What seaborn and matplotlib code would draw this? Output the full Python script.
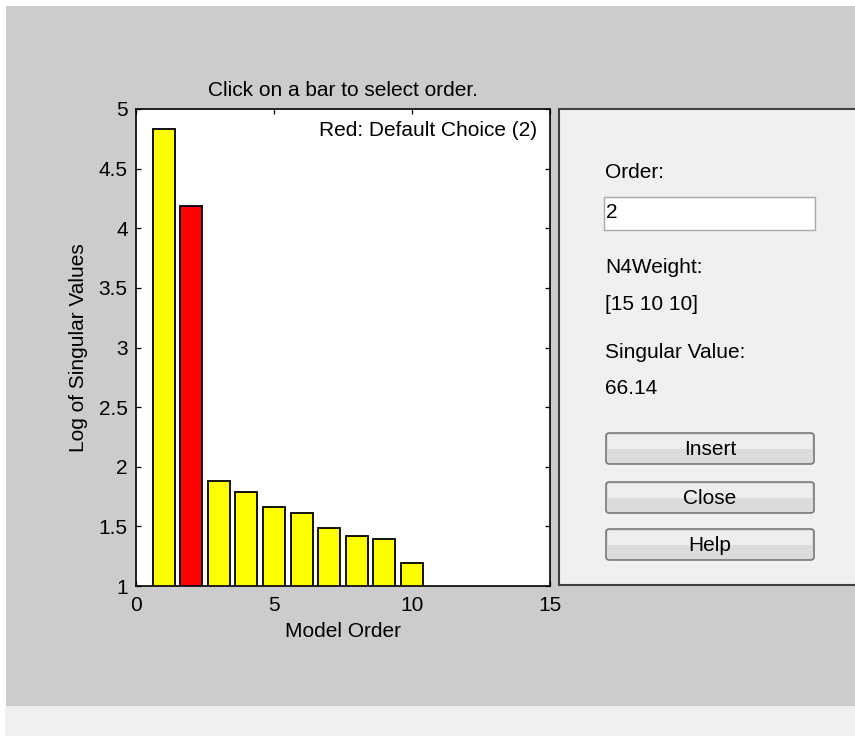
import matplotlib
matplotlib.use("Agg")
import matplotlib.pyplot as plt
import seaborn as sns
import pandas as pd
from matplotlib.patches import Rectangle, FancyBboxPatch

# ---- data ----
model_order = [1, 2, 3, 4, 5, 6, 7, 8, 9, 10]
log_singular = [4.83, 4.19, 1.88, 1.79, 1.66, 1.61, 1.49, 1.42, 1.39, 1.19]
default_order = 2
x_ticks = [0, 5, 10, 15]
y_ticks = [1, 1.5, 2, 2.5, 3, 3.5, 4, 4.5, 5]
y_tick_labels = ["1", "1.5", "2", "2.5", "3", "3.5", "4", "4.5", "5"]
panel_labels = ["Order:", "N4Weight:", "[15 10 10]", "Singular Value:", "66.14"]
order_value = "2"
button_labels = ["Insert", "Close", "Help"]

sns.set_style("white")
plt.rcParams["font.family"] = ["Liberation Sans", "DejaVu Sans"]
plt.rcParams["text.color"] = "black"
plt.rcParams["axes.labelcolor"] = "black"

FS = 15
W, H = 855, 736
fig = plt.figure(figsize=(W / 100, H / 100), dpi=100)
fig.patch.set_facecolor("white")

def fx(x):
    return x / W

def fy(y):
    return 1 - y / H

# background regions
fig.patches.append(Rectangle((fx(6), fy(706)), fx(W - 6), (706 - 6) / H,
                             transform=fig.transFigure, facecolor="#cccccc",
                             edgecolor="none", zorder=-10))
fig.patches.append(Rectangle((fx(5), fy(736)), fx(W - 5), 30 / H,
                             transform=fig.transFigure, facecolor="#f0f0f0",
                             edgecolor="none", zorder=-10))

# ---- main axes ----
ax_l, ax_r, ax_t, ax_b = 136, 550, 109, 586
ax = fig.add_axes([fx(ax_l), fy(ax_b), (ax_r - ax_l) / W, (ax_b - ax_t) / H])
df = pd.DataFrame({"order": model_order, "value": log_singular})
df["kind"] = ["default" if o == default_order else "other" for o in model_order]
sns.barplot(data=df, x="order", y="value", hue="kind", native_scale=True,
            palette={"default": "#ff0000", "other": "#ffff00"},
            dodge=False, width=0.8, edgecolor="black", linewidth=1.3,
            legend=False, ax=ax, saturation=1)
ax.set_xlim(0, 15)
ax.set_ylim(1, 5)
ax.set_xticks(x_ticks)
ax.set_xticklabels([str(t) for t in x_ticks])
ax.set_yticks(y_ticks)
ax.set_yticklabels(y_tick_labels)
ax.set_facecolor("white")
for s in ax.spines.values():
    s.set_visible(True)
    s.set_color("black")
    s.set_linewidth(1.2)
ax.tick_params(direction="in", length=3.5, width=0.9, top=True, right=True,
               bottom=True, left=True, labelsize=FS, colors="black")
ax.tick_params(axis="x", pad=7)
ax.tick_params(axis="y", pad=6)
ax.set_xlabel("Model Order", fontsize=FS, labelpad=5, color="black")
ax.set_ylabel("Log of Singular Values", fontsize=FS, labelpad=8, color="black")
ax.set_title("Click on a bar to select order.", fontsize=FS, pad=9, color="black")
ax.text(0.97, 0.955, "Red: Default Choice (2)", transform=ax.transAxes,
        ha="right", va="center", fontsize=FS, color="black")

# ---- right panel ----
pl, pt, pb = 559, 109, 585
fig.patches.append(Rectangle((fx(pl), fy(pb)), fx(W - pl + 10), (pb - pt) / H,
                             transform=fig.transFigure, facecolor="#f0f0f0",
                             edgecolor="#404040", linewidth=1.5, zorder=1))

def ftext(x, y, s, **kw):
    fig.text(fx(x), fy(y), s, fontsize=FS, va="center", zorder=5,
             color="black", **kw)

ftext(605, 173, panel_labels[0])
# edit box
fig.patches.append(Rectangle((fx(604), fy(230)), (815 - 604) / W, (230 - 197) / H,
                             transform=fig.transFigure, facecolor="white",
                             edgecolor="#a9a9a9", linewidth=1.0, zorder=3))
ftext(606, 213, order_value)
ftext(605, 268, panel_labels[1])
ftext(605, 305, panel_labels[2])
ftext(605, 352, panel_labels[3])
ftext(605, 388, panel_labels[4])

btn_y = [(433, 464), (482, 513), (529, 560)]
for lab, (y0, y1) in zip(button_labels, btn_y):
    fig.patches.append(FancyBboxPatch((fx(606), fy(y1)), (814 - 606) / W, (y1 - y0) / H,
                                      boxstyle="round,pad=0,rounding_size=0.004",
                                      transform=fig.transFigure, facecolor="#dcdcdc",
                                      edgecolor="#707070", linewidth=1.1, zorder=3))
    fig.patches.append(Rectangle((fx(608), fy((y0 + y1) / 2)), (810 - 606) / W,
                                 ((y0 + y1) / 2 - y0 - 2) / H,
                                 transform=fig.transFigure, facecolor="#eeeeee",
                                 edgecolor="none", zorder=4))
    fig.text(fx(710), fy((y0 + y1) / 2 + 1), lab, fontsize=FS, ha="center",
             va="center", zorder=5, color="black")

fig.savefig("out.png", dpi=100, facecolor=fig.get_facecolor())
